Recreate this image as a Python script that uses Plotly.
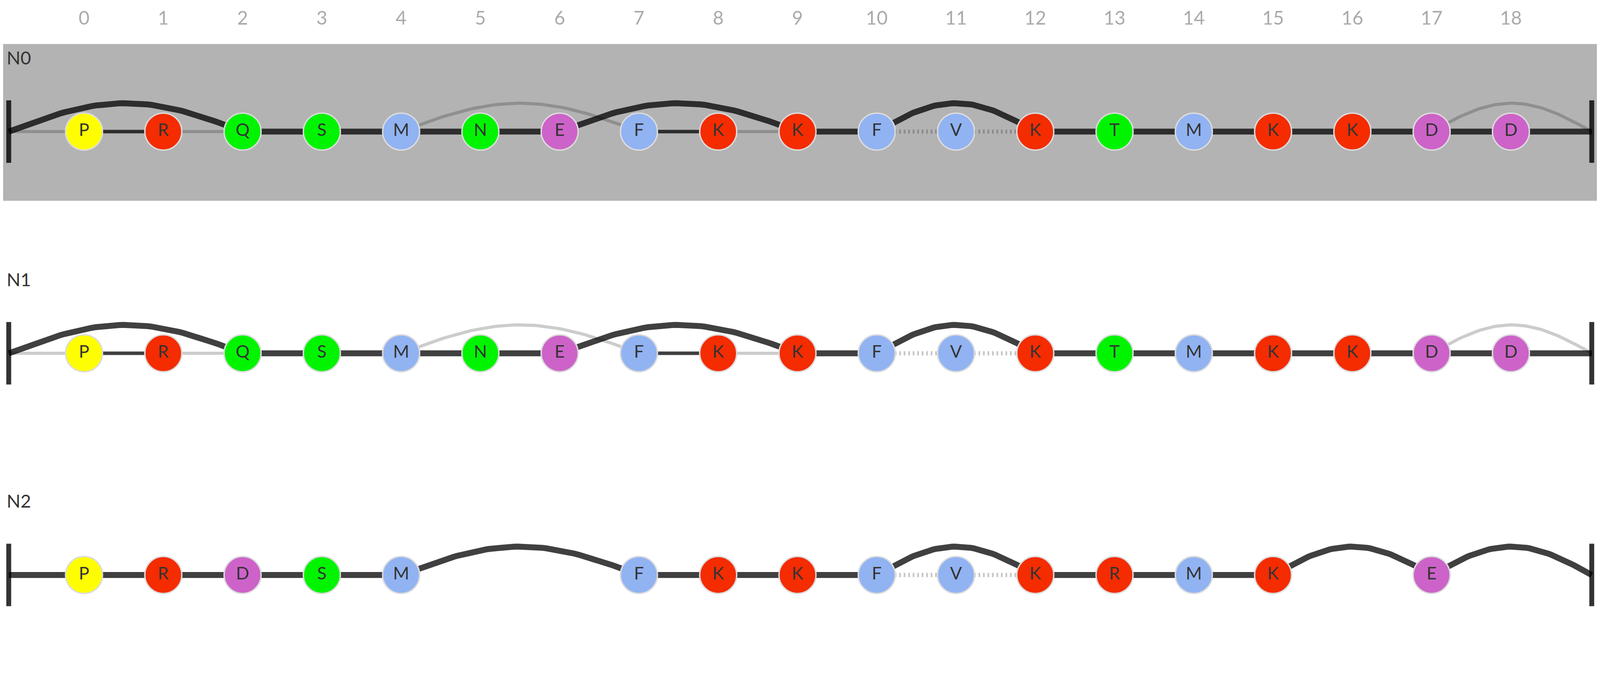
import numpy as np
import plotly.graph_objects as go

# --- data -----------------------------------------------------------------
columns = list(range(19))
tick_labels = [str(c) for c in columns]

row_names = ["N0", "N1", "N2"]

n0_residues = ["P", "R", "Q", "S", "M", "N", "E", "F", "K", "K",
               "F", "V", "K", "T", "M", "K", "K", "D", "D"]
n1_residues = ["P", "R", "Q", "S", "M", "N", "E", "F", "K", "K",
               "F", "V", "K", "T", "M", "K", "K", "D", "D"]
n2_residues = ["P", "R", "D", "S", "M", None, None, "F", "K", "K",
               "F", "V", "K", "R", "M", "K", None, "E", None]

# links: (from column, to column, kind); -1 = start cap, 19 = end cap
n0_links = [(-1, 0, "gray"), (-1, 2, "thick"), (0, 1, "thin"), (1, 2, "gray"),
            (2, 3, "thick"), (3, 4, "thick"), (4, 5, "thick"), (5, 6, "thick"),
            (4, 7, "gray"), (6, 9, "thick"), (7, 8, "thin"), (8, 9, "gray"),
            (9, 10, "thick"), (10, 11, "dot"), (11, 12, "dot"), (10, 12, "thick"),
            (12, 13, "thick"), (13, 14, "thick"), (14, 15, "thick"), (15, 16, "thick"),
            (16, 17, "thick"), (17, 18, "thick"), (18, 19, "thick"), (17, 19, "gray")]
n1_links = list(n0_links)
n2_links = [(-1, 0, "thick"), (0, 1, "thick"), (1, 2, "thick"), (2, 3, "thick"),
            (3, 4, "thick"), (4, 7, "thick"), (7, 8, "thick"), (8, 9, "thick"),
            (9, 10, "thick"), (10, 11, "dot"), (11, 12, "dot"), (10, 12, "thick"),
            (12, 13, "thick"), (13, 14, "thick"), (14, 15, "thick"), (15, 17, "thick"),
            (17, 19, "thick")]

rows_residues = [n0_residues, n1_residues, n2_residues]
rows_links = [n0_links, n1_links, n2_links]

# --- styles ---------------------------------------------------------------
# the page is shot at ~1.12 device px per css px, so sizes are scaled down
PX = 1 / 1.1201
W, H = 4088, 1545  # css px, leaves room for the 8px body margin

residue_colors = {
    "P": "#fefe00",
    "R": "#f42c00", "K": "#f42c00",
    "Q": "#00f400", "S": "#00f400", "N": "#00f400", "T": "#00f400",
    "M": "#91b3f2", "F": "#91b3f2", "V": "#91b3f2",
    "D": "#cd63c9", "E": "#cd63c9",
}
link_styles = {
    "gray": dict(color="rgba(0,0,0,0.2)", width=9 * PX),
    "dot": dict(color="rgba(0,0,0,0.22)", width=12 * PX, dash="4.5px,7px"),
    "thin": dict(color="rgba(0,0,0,0.75)", width=10 * PX),
    "thick": dict(color="rgba(0,0,0,0.75)", width=17 * PX),
}
draw_order = ["gray", "dot", "thin", "thick"]

START_X, END_X = -0.95, 19.02
ARC_H = 0.128
ROW_Y = [0, -1, -2]
FONT = "Lato"


def col_x(c):
    if c == -1:
        return START_X
    if c == 19:
        return END_X
    return c


def link_path(a, b, y0):
    xa, xb = col_x(a), col_x(b)
    if abs(b - a) == 1:
        return [xa, xb], [y0, y0]
    t = np.linspace(0, 1, 60)
    return list(xa + (xb - xa) * t), list(y0 + ARC_H * np.sin(np.pi * t))


fig = go.Figure()

# gray band behind N0
fig.add_shape(type="rect", xref="paper", x0=0, x1=1, yref="y",
              y0=ROW_Y[0] - 0.312, y1=ROW_Y[0] + 0.395,
              fillcolor="#b3b3b3", line_width=0, layer="below")

for name, residues, links, y0 in zip(row_names, rows_residues, rows_links, ROW_Y):
    for kind in draw_order:
        for a, b, k in links:
            if k != kind:
                continue
            xs, ys = link_path(a, b, y0)
            fig.add_trace(go.Scatter(x=xs, y=ys, mode="lines",
                                     line=link_styles[k], hoverinfo="skip"))

    # end caps
    fig.add_trace(go.Scatter(
        x=[START_X, END_X], y=[y0, y0], mode="markers",
        marker=dict(symbol="line-ns", size=128 * PX,
                    line=dict(color="rgba(0,0,0,0.8)", width=14 * PX)),
        hoverinfo="skip"))

    xs = [c for c, r in zip(columns, residues) if r]
    letters = [r for r in residues if r]
    fig.add_trace(go.Scatter(
        x=xs, y=[y0] * len(xs), mode="markers+text",
        text=letters, textposition="middle center",
        textfont=dict(family=FONT, size=50 * PX, color="#333333"),
        marker=dict(size=106 * PX, color=[residue_colors[r] for r in letters],
                    line=dict(color="#dcdcdc", width=4 * PX)),
        hoverinfo="skip"))

    fig.add_annotation(text=name, xref="paper", x=(17 * PX - 8) / W, xanchor="left",
                       yref="y", y=y0 + 0.335, yanchor="middle", showarrow=False,
                       font=dict(family=FONT, size=52 * PX, color="#333333"))

fig.update_xaxes(side="top", range=[-1.0208, 19.124], tickvals=columns,
                 ticktext=tick_labels, showgrid=False, zeroline=False,
                 showline=False, ticks="", ticklabelstandoff=24,
                 tickfont=dict(family=FONT, size=54 * PX, color="#aaaaaa"),
                 fixedrange=True)
fig.update_yaxes(visible=False, range=[-2.1416, 0.4209], fixedrange=True)
fig.update_layout(width=W, height=H, showlegend=False,
                  margin=dict(l=0, r=0, t=90, b=0),
                  paper_bgcolor="white", plot_bgcolor="white",
                  hovermode=False)

fig.write_html("out.html")
